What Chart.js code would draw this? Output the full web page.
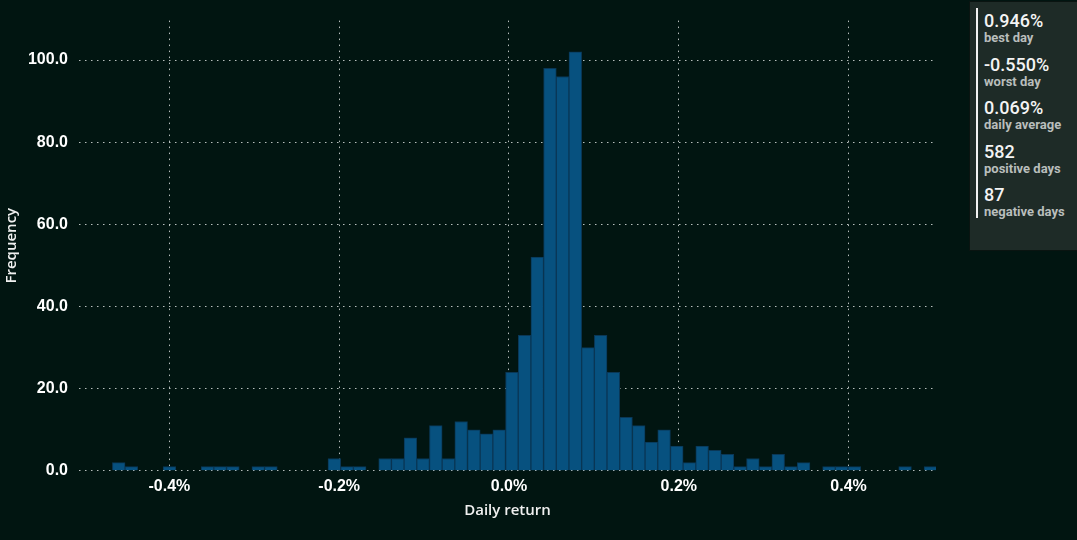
<!DOCTYPE html>
<html>
<head>
<meta charset="utf-8">
<script src="https://cdn.jsdelivr.net/npm/chart.js@4.4.1/dist/chart.umd.min.js"></script>
<style>
  html, body { margin: 0; padding: 0; background: #011511; }
  #wrap { position: relative; width: 1077px; height: 540px; }
  #chart { position: absolute; left: 0; top: 0; }
  #stats {
    position: absolute; left: 969px; top: 1px; width: 120px; height: 250px;
    background: #1e2b27; border: 1px solid #0a1411; box-sizing: border-box;
  }
  #stats .bar { position: absolute; left: 6px; top: 6px; width: 2px; height: 210px; background: #f2f2f2; }
  #stats .row { position: absolute; left: 14px; font-family: "Roboto", sans-serif; }
  #stats .val { color: #f4f4f4; font-size: 18px; font-weight: 500; line-height: 20px; }
  #stats .lbl { color: #b9bebc; font-size: 13px; font-weight: 700; line-height: 13px; }
</style>
</head>
<body>
<div id="wrap">
  <canvas id="chart" width="1077" height="540"></canvas>
  <div id="stats"><div class="bar"></div></div>
</div>
<script>
// histogram counts per bin, left to right
const counts = [
  0, 0, 0, 2, 1, 0, 0, 1, 0, 0, 1, 1, 1, 0, 1, 1, 0, 0, 0, 0,
  3, 1, 1, 0, 3, 3, 8, 3, 11, 3, 12, 10, 9, 10,
  24, 33, 52, 98, 96, 102, 30, 33, 24, 13, 11, 7, 10, 6, 2, 6,
  5, 4, 1, 3, 1, 4, 1, 2, 0, 1, 1, 1, 0, 0, 0, 1, 0, 1
];
const binStart = -0.512;   // daily return, %
const binWidth = 0.01494;
const xTicks = [-0.4, -0.2, 0.0, 0.2, 0.4];
const yTicks = [0, 20, 40, 60, 80, 100];

const statValues = ["0.946%", "-0.550%", "0.069%", "582", "87"];
const statLabels = ["best day", "worst day", "daily average", "positive days", "negative days"];

// stats panel
const stats = document.getElementById("stats");
statValues.forEach((v, i) => {
    const row = document.createElement("div");
    row.className = "row";
    row.style.top = (9 + i * 43.5) + "px";
    row.innerHTML = '<div class="val">' + v + '</div><div class="lbl">' + statLabels[i] + '</div>';
    stats.appendChild(row);
});

const points = counts.map((c, i) => ({ x: binStart + binWidth * (i + 0.5), y: c }));

const gridColor = "rgba(215,220,218,0.85)";
const tickFont = { family: "Liberation Sans", size: 16, weight: "bold" };
const titleFont = { family: "Open Sans", size: 15, weight: "600" };

new Chart(document.getElementById("chart"), {
    type: "bar",
    data: {
        datasets: [{
            data: points,
            backgroundColor: "#07517f",
            borderColor: "#0a3756",
            borderWidth: 1,
            barPercentage: 1,
            categoryPercentage: 1,
        }],
    },
    options: {
        responsive: false,
        animation: false,
        layout: { padding: { left: 0, right: 141, top: 19, bottom: 20 } },
        plugins: { legend: { display: false }, tooltip: { enabled: false } },
        scales: {
            x: {
                type: "linear",
                offset: false,
                min: -0.5065,
                max: 0.503,
                afterBuildTicks: (scale) => { scale.ticks = xTicks.map(v => ({ value: v })); },
                ticks: {
                    color: "#ffffff", font: tickFont, padding: 6,
                    callback: (v) => v.toFixed(1) + "%",
                },
                grid: { color: gridColor, lineWidth: 1, drawTicks: false, offset: false },
                border: { display: false, dash: [1.5, 4.5] },
                title: {
                    display: true, text: "Daily return", color: "#f0f0f0",
                    font: titleFont, padding: { top: 0, bottom: 0 },
                },
            },
            y: {
                min: 0,
                max: 109.6,
                afterBuildTicks: (scale) => { scale.ticks = yTicks.map(v => ({ value: v })); },
                afterFit: (scale) => { scale.width = 79; },
                ticks: {
                    color: "#ffffff", font: tickFont, padding: 11,
                    callback: (v) => v.toFixed(1),
                },
                grid: { color: gridColor, lineWidth: 1, drawTicks: false },
                border: { display: false, dash: [1.5, 4.5] },
                title: {
                    display: true, text: "Frequency", color: "#f0f0f0",
                    font: titleFont, padding: { top: 3, bottom: 0 },
                },
            },
        },
    },
});
</script>
</body>
</html>
